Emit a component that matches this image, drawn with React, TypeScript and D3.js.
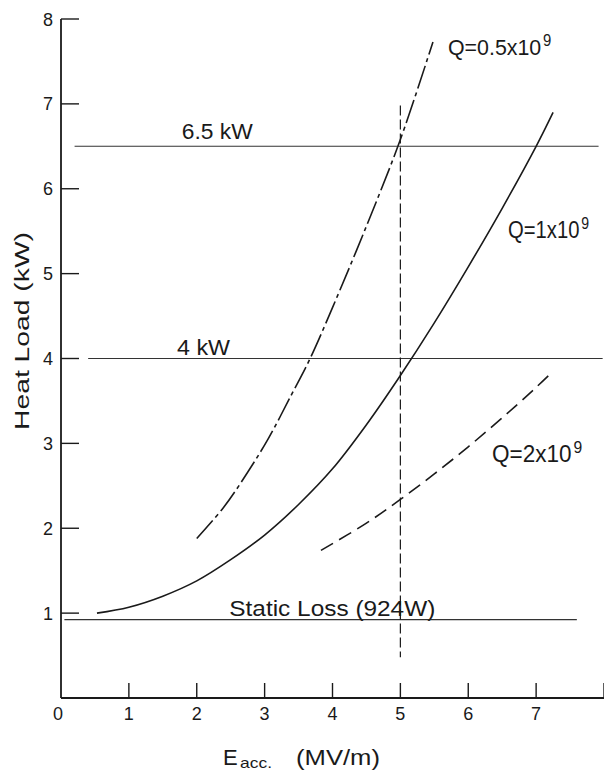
import React from "react";
import * as d3 from "d3";

// Heat load (kW) versus accelerating gradient (MV/m) for three cavity Q values
const q05Curve: [number, number][] = [
  [2.0, 1.88], [2.4, 2.25], [2.75, 2.66], [3.05, 3.05], [3.4, 3.58],
  [3.67, 4.0], [4.0, 4.6], [4.5, 5.56], [5.0, 6.58], [5.48, 7.73],
];
const q1Curve: [number, number][] = [
  [0.53, 1.0], [1.0, 1.07], [1.5, 1.2], [2.0, 1.38], [2.5, 1.63],
  [3.0, 1.92], [3.5, 2.28], [4.0, 2.7], [4.5, 3.22], [5.0, 3.8],
  [5.5, 4.42], [6.0, 5.08], [6.5, 5.77], [7.0, 6.5], [7.25, 6.9],
];
const q2Curve: [number, number][] = [
  [3.83, 1.74], [4.5, 2.06], [5.0, 2.34], [5.5, 2.64], [6.0, 2.96],
  [6.5, 3.3], [7.0, 3.66], [7.25, 3.85],
];

// Horizontal reference levels: value (kW), start and end gradient (MV/m)
const refValues = [6.5, 4.0, 0.924];
const refStarts = [0.2, 0.4, 0.05];
const refEnds = [7.92, 7.98, 7.6];
const refLabels = ["6.5 kW", "4 kW", "Static Loss (924W)"];

// Curve labels: mantissa text and exponent
const qLabels = ["Q=0.5x10", "Q=1x10", "Q=2x10"];
const qExponent = "9";

// Operating gradient marker
const markerGradient = 5;
const markerRange = [0.48, 6.98];

const xTicks = [0, 1, 2, 3, 4, 5, 6, 7, 8];
const yTicks = [1, 2, 3, 4, 5, 6, 7, 8];

const W = 604;
const H = 772;
const FONT = "'Liberation Sans Narrow', 'Liberation Sans', Arial, sans-serif";
const INK = "#1a1a1a";

export default function App() {
  const x = d3.scaleLinear().domain([0, 8]).range([61, 604]);
  const y = d3.scaleLinear().domain([0, 8]).range([698, 19]);

  const line = d3
    .line<[number, number]>()
    .x((d) => x(d[0]))
    .y((d) => y(d[1]))
    .curve(d3.curveCatmullRom.alpha(0.5));

  // label placements (gradient, offset, width px) for the reference levels
  const refLabelPos = [
    { u: 1.78, dy: -7, w: 71 },
    { u: 1.71, dy: -4, w: 53 },
    { u: 2.48, dy: -4, w: 206 },
  ];

  // curve label anchors (px) and horizontal squeeze
  const qLabelPos = [
    { px: 448, py: 55, sx: 0.93 },
    { px: 508, py: 238, sx: 0.88 },
    { px: 492, py: 462, sx: 0.98 },
  ];

  return (
    <svg
      width={W}
      height={H}
      style={{ position: "absolute", left: 0, top: 0, background: "#fff" }}
    >
      <rect width={W} height={H} fill="#fff" />

      {/* axes */}
      <line x1={x(0)} x2={x(0)} y1={y(8)} y2={y(0)} stroke={INK} strokeWidth={1.8} />
      <line x1={x(0)} x2={x(8)} y1={y(0)} y2={y(0)} stroke={INK} strokeWidth={1.8} />

      {yTicks.map((t) => (
        <g key={"yt" + t}>
          <line x1={x(0)} x2={x(0) + 18} y1={y(t)} y2={y(t)} stroke={INK} strokeWidth={1.4} />
          <text
            x={x(0) - 8}
            y={y(t) + 6.5}
            textAnchor="end"
            fontFamily={FONT}
            fontSize={18}
            fill={INK}
          >
            {t}
          </text>
        </g>
      ))}
      {xTicks.map((t) => (
        <g key={"xt" + t}>
          {t > 0 && (
            <line x1={x(t)} x2={x(t)} y1={y(0)} y2={y(0) - 15} stroke={INK} strokeWidth={1.4} />
          )}
          {t < 8 && (
            <text
              x={x(t) - (t === 0 ? 3 : 0)}
              y={y(0) + 22}
              textAnchor="middle"
              fontFamily={FONT}
              fontSize={18}
              fill={INK}
            >
              {t}
            </text>
          )}
        </g>
      ))}

      {/* axis titles */}
      <text
        transform={`translate(29, 331) rotate(-90)`}
        textAnchor="middle"
        fontFamily={FONT}
        fontSize={21}
        fill={INK}
        textLength={198}
        lengthAdjust="spacingAndGlyphs"
      >
        Heat  Load  (kW)
      </text>
      <text x={223} y={765} fontFamily={FONT} fontSize={22} fill={INK}>
        E
      </text>
      <text
        x={240}
        y={768}
        fontFamily={FONT}
        fontSize={15}
        fill={INK}
        textLength={32}
        lengthAdjust="spacingAndGlyphs"
      >
        acc.
      </text>
      <text
        x={296}
        y={765}
        fontFamily={FONT}
        fontSize={22}
        fill={INK}
        textLength={84}
        lengthAdjust="spacingAndGlyphs"
      >
        (MV/m)
      </text>

      {/* reference levels */}
      {refValues.map((v, i) => (
        <g key={"ref" + i}>
          <line
            x1={x(refStarts[i])}
            x2={x(refEnds[i])}
            y1={y(v)}
            y2={y(v)}
            stroke="#333"
            strokeWidth={1.1}
          />
          <text
            x={x(refLabelPos[i].u)}
            y={y(v) + refLabelPos[i].dy}
            fontFamily={FONT}
            fontSize={22}
            fill={INK}
            textLength={refLabelPos[i].w}
            lengthAdjust="spacingAndGlyphs"
          >
            {refLabels[i]}
          </text>
        </g>
      ))}

      {/* operating gradient */}
      <line
        x1={x(markerGradient)}
        x2={x(markerGradient)}
        y1={y(markerRange[1])}
        y2={y(markerRange[0])}
        stroke={INK}
        strokeWidth={1.2}
        strokeDasharray="10,4"
      />

      {/* Q curves */}
      <path d={line(q05Curve) || ""} fill="none" stroke={INK} strokeWidth={1.6} strokeDasharray="24,4,4,4" />
      <path d={line(q1Curve) || ""} fill="none" stroke={INK} strokeWidth={1.6} />
      <path d={line(q2Curve) || ""} fill="none" stroke={INK} strokeWidth={1.6} strokeDasharray="14,7" />

      {/* curve labels */}
      {qLabels.map((lab, i) => (
        <text
          key={"ql" + i}
          transform={`translate(${qLabelPos[i].px}, ${qLabelPos[i].py}) scale(${qLabelPos[i].sx}, 1)`}
          fontFamily={FONT}
          fontSize={23}
          fill={INK}
        >
          {lab}
          <tspan dx={2} dy={-9} fontSize={16}>
            {qExponent}
          </tspan>
        </text>
      ))}
    </svg>
  );
}
